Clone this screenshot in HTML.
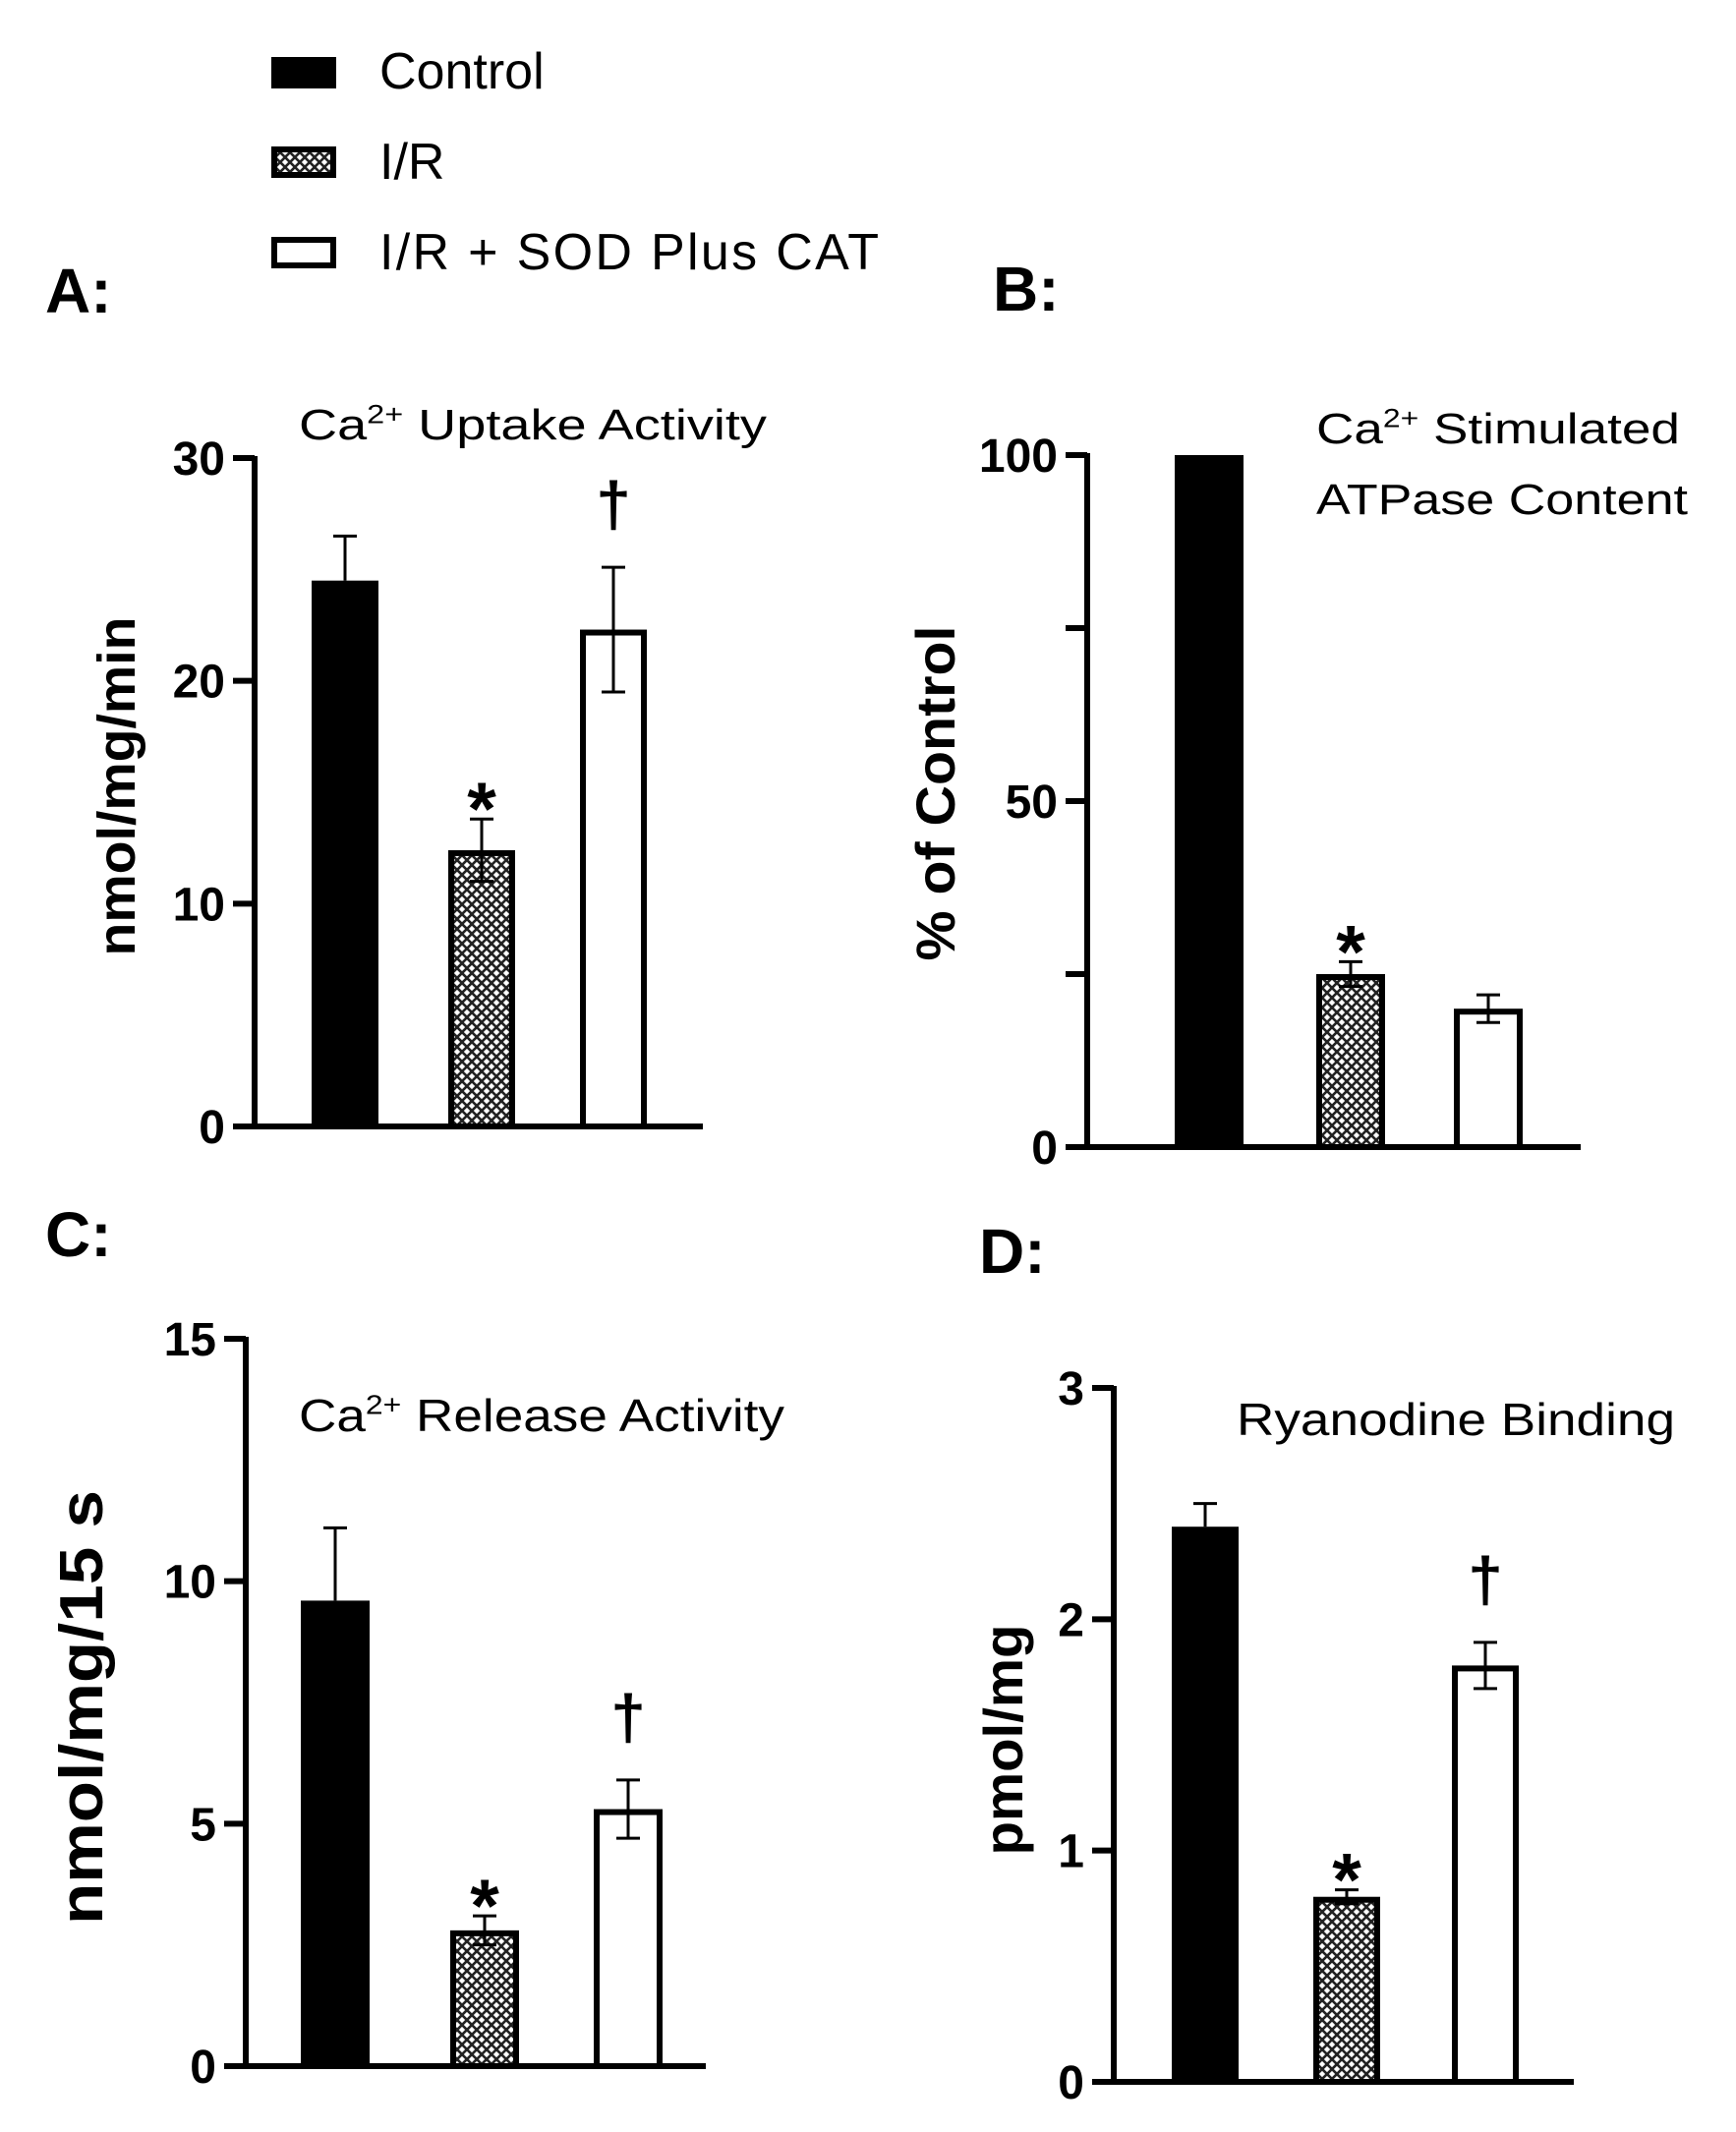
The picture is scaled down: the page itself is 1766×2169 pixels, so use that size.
<!DOCTYPE html>
<html><head><meta charset="utf-8"><style>
html,body{margin:0;padding:0;background:#fff}
svg{display:block}
text{font-family:"Liberation Sans",sans-serif;fill:#000}
</style></head><body>
<svg id="fig" width="1766" height="2169" viewBox="0 0 1766 2169" xmlns="http://www.w3.org/2000/svg">
<defs>
<pattern id="hatch" width="10" height="10" patternUnits="userSpaceOnUse">
<rect width="10" height="10" fill="#fff"/>
<path d="M0,0 L10,10 M10,0 L0,10" stroke="#222" stroke-width="2.6"/>
</pattern>
</defs>
<g>
<rect x="276" y="58" width="66" height="32" fill="#000"/>
<text x="386" y="90" font-size="52">Control</text>
<rect x="279" y="152" width="60" height="26" fill="url(#hatch)" stroke="#000" stroke-width="6"/>
<text x="386" y="182" font-size="52">I/R</text>
<rect x="279" y="244" width="60" height="26" fill="#fff" stroke="#000" stroke-width="6"/>
<text x="386" y="274" font-size="52" textLength="508">I/R + SOD Plus CAT</text>
</g>
<text x="46" y="318" font-size="64" font-weight="bold">A:</text>
<text x="1010" y="316" font-size="64" font-weight="bold">B:</text>
<text x="46" y="1278" font-size="64" font-weight="bold">C:</text>
<text x="996" y="1295" font-size="64" font-weight="bold">D:</text>
</svg>
<script>
// Panel A
const aCats = ["Control","I/R","I/R + SOD Plus CAT"];
const aValues = [24.5, 12.4, 22.3];
const aErrors = [2.0, 1.4, 2.8];
const aTicks = [0, 10, 20, 30];
const aTickLabels = ["0","10","20","30"];
const aMarks = ["", "*", "†"];
// Panel B
const bValues = [100, 25, 20];
const bErrors = [0, 1.8, 2.0];
const bTicks = [0, 25, 50, 75, 100];
const bTickLabels = ["0","","50","","100"];
const bMarks = ["", "*", ""];
// Panel C
const cValues = [9.6, 2.8, 5.3];
const cErrors = [1.5, 0.3, 0.6];
const cTicks = [0, 5, 10, 15];
const cTickLabels = ["0","5","10","15"];
const cMarks = ["", "*", "†"];
// Panel D
const dValues = [2.4, 0.8, 1.8];
const dErrors = [0.1, 0.03, 0.1];
const dTicks = [0, 1, 2, 3];
const dTickLabels = ["0","1","2","3"];
const dMarks = ["", "*", "†"];

const NS = "http://www.w3.org/2000/svg";
const svg = document.getElementById("fig");
function mk(tag, attrs, parent){
  const e = document.createElementNS(NS, tag);
  for (const k in attrs) e.setAttribute(k, attrs[k]);
  (parent||svg).appendChild(e);
  return e;
}
function panel(cfg, values, errors, ticks, tickLabels, marks){
  const g = mk("g", {});
  
  
  const max = ticks[ticks.length-1];
  const y = v => cfg.y0 - (v / max) * (cfg.y0 - cfg.yTop);
  values.forEach((v, i) => {
    const x0 = cfg.barX[i], w = cfg.barW;
    const top = y(v);
    let r;
    if (i === 0) {
      r = mk("rect", {x:x0, y:top, width:w, height:cfg.y0-top, fill:"#000"}, g);
    } else {
      r = mk("rect", {x:x0+3, y:top+3, width:w-6, height:cfg.y0-top-3, fill: i===1?"url(#hatch)":"#fff", stroke:"#000", "stroke-width":6}, g);
    }
    
    
    const cx = x0 + w/2;
    if (errors[i] > 0) {
      const eb = mk("g", {stroke:"#000","stroke-width":3}, g);
      
      
      const lo = i === 0 ? v : v - errors[i];
      mk("line", {x1:cx, x2:cx, y1:y(v+errors[i]), y2:y(lo)}, eb);
      mk("line", {x1:cx-12, x2:cx+12, y1:y(v+errors[i]), y2:y(v+errors[i])}, eb);
      if (i !== 0) mk("line", {x1:cx-12, x2:cx+12, y1:y(lo), y2:y(lo)}, eb);
    }
    if (marks[i]) {
      const isA = marks[i]==="*";
      const t = mk("text", {x:cx, y: y(v+errors[i]) - (isA?14:42), "font-size": isA?76:64, "font-weight":"bold", "text-anchor":"middle"}, g);
      if (isA) t.setAttribute("dy", "30");
      t.textContent = marks[i];
      
      
    }
  });
  const ax = mk("line", {x1:cfg.axX, x2:cfg.axX, y1:cfg.yTop-2, y2:cfg.y0+3, stroke:"#000","stroke-width":6}, g);
  
  
  const xa = mk("line", {x1:cfg.axX-22, x2:cfg.axRight, y1:cfg.y0, y2:cfg.y0, stroke:"#000","stroke-width":6}, g);
  
  
  ticks.forEach((t, k) => {
    const ty = y(t);
    const tl = mk("line", {x1:cfg.axX-22, x2:cfg.axX, y1:ty, y2:ty, stroke:"#000","stroke-width":6}, g);
    
    
    if (tickLabels[k]) {
      const lb = mk("text", {x:cfg.axX-30, y:ty+17, "font-size":cfg.tickFs, "font-weight":"bold", "text-anchor":"end"}, g);
      lb.textContent = tickLabels[k];
      
      
    }
  });
  const yl = mk("text", {x:0, y:0, "font-size":cfg.ylFs, "font-weight":"bold", "text-anchor":"middle", textLength:cfg.ylLen, lengthAdjust:"spacingAndGlyphs", transform:`translate(${cfg.ylX},${cfg.ylY}) rotate(-90)`}, g);
  yl.textContent = cfg.ylabel;
  
  
  cfg.title.forEach((line, k) => {
    const t = mk("text", {x:cfg.tX, y:cfg.tY + k*72, "font-size":cfg.tFs, textLength: line.len, lengthAdjust:"spacingAndGlyphs"}, g);
    if (line.sup) {
      t.appendChild(document.createTextNode("Ca"));
      const s = mk("tspan", {"font-size": cfg.tFs*0.6, dy: -cfg.tFs*0.38}, t);
      s.textContent = "2+";
      const r = mk("tspan", {dy: cfg.tFs*0.38}, t);
      r.textContent = line.text;
    } else {
      t.textContent = line.text;
    }
    
    
  });
}
panel({name:"panel-a-uptake", axX:259, axRight:715, y0:1146, yTop:466, barX:[317,456,590], barW:68,
  tickFs:48, ylFs:54, ylLen:345, ylX:137, ylY:800, ylabel:"nmol/mg/min", tX:304, tY:447, tFs:44,
  title:[{sup:true, text:" Uptake Activity", len:476}]}, aValues, aErrors, aTicks, aTickLabels, aMarks);
panel({name:"panel-b-atpase", axX:1106, axRight:1608, y0:1167, yTop:463, barX:[1195,1339,1479], barW:70,
  tickFs:48, ylFs:56, ylLen:341, ylX:971, ylY:807, ylabel:"% of Control", tX:1339, tY:451, tFs:44,
  title:[{sup:true, text:" Stimulated", len:370},{text:"ATPase Content", len:378}]}, bValues, bErrors, bTicks, bTickLabels, bMarks);
panel({name:"panel-c-release", axX:250, axRight:718, y0:2102, yTop:1362, barX:[306,458,604], barW:70,
  tickFs:48, ylFs:62, ylLen:442, ylX:104, ylY:1737, ylabel:"nmol/mg/15 s", tX:304, tY:1456, tFs:46,
  title:[{sup:true, text:" Release Activity", len:494}]}, cValues, cErrors, cTicks, cTickLabels, cMarks);
panel({name:"panel-d-ryanodine", axX:1133, axRight:1601, y0:2118, yTop:1412, barX:[1192,1336,1477], barW:68,
  tickFs:48, ylFs:56, ylLen:235, ylX:1040, ylY:1770, ylabel:"pmol/mg", tX:1258, tY:1460, tFs:46,
  title:[{text:"Ryanodine Binding", len:446}]}, dValues, dErrors, dTicks, dTickLabels, dMarks);
</script>
</body></html>
